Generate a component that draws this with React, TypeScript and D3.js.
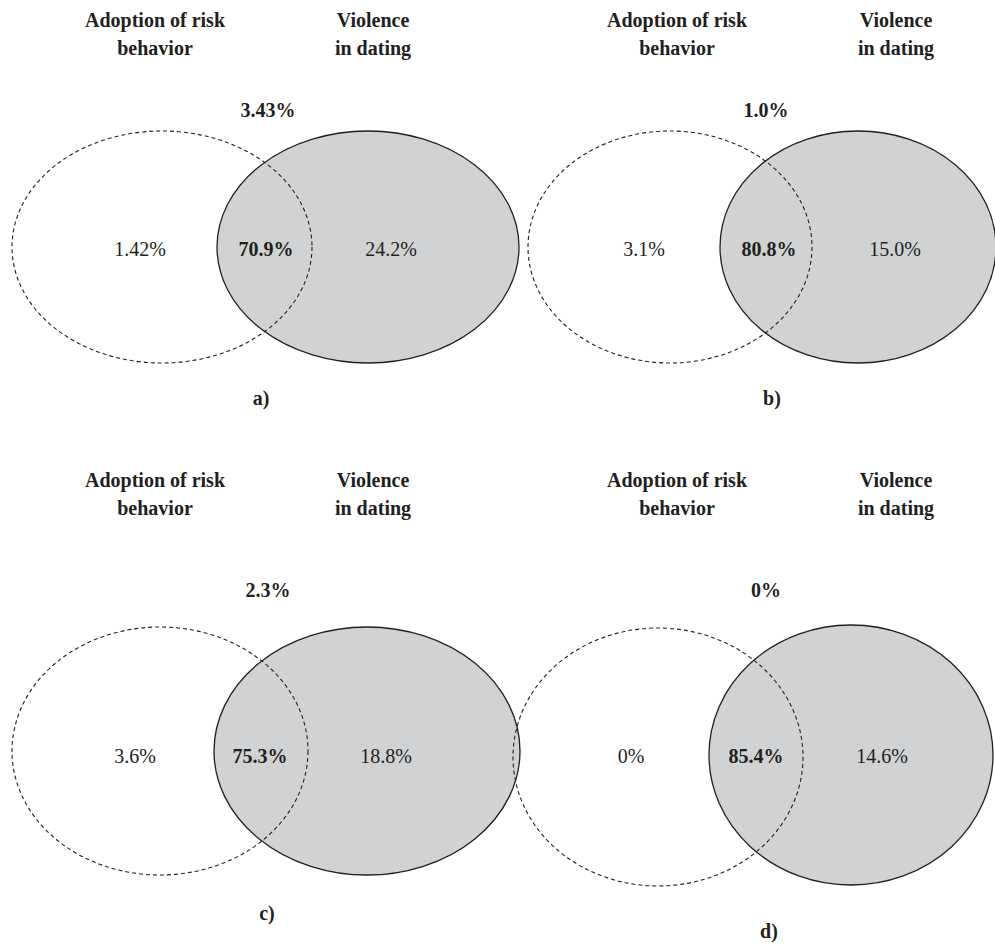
import React from "react";
import * as d3 from "d3";

// ---- Data ----
const panelLabels = ["a)", "b)", "c)", "d)"];
const setNames = ["Adoption of risk|behavior", "Violence|in dating"];
const onlyRisk = [1.42, 3.1, 3.6, 0];
const onlyRiskDigits = [2, 1, 1, 0];
const both = [70.9, 80.8, 75.3, 85.4];
const bothDigits = [1, 1, 1, 1];
const onlyViolence = [24.2, 15.0, 18.8, 14.6];
const onlyViolenceDigits = [1, 1, 1, 1];
const neither = [3.43, 1.0, 2.3, 0];
const neitherDigits = [2, 1, 1, 0];

// ---- Layout (per panel geometry) ----
const layout = [
  {
    dashed: { cx: 162, cy: 247, rx: 150, ry: 116 },
    solid: { cx: 368, cy: 247, rx: 151, ry: 116 },
    titleX: [155, 373], titleY: 27,
    topX: 268, topY: 117,
    valX: [140, 266, 391], valY: 256,
    panelX: 261, panelY: 405,
  },
  {
    dashed: { cx: 670, cy: 247, rx: 142, ry: 116 },
    solid: { cx: 858, cy: 247, rx: 138, ry: 116 },
    titleX: [677, 896], titleY: 27,
    topX: 766, topY: 117,
    valX: [644, 769, 895], valY: 256,
    panelX: 772, panelY: 405,
  },
  {
    dashed: { cx: 160, cy: 751, rx: 148, ry: 124 },
    solid: { cx: 367, cy: 751, rx: 153, ry: 124 },
    titleX: [155, 373], titleY: 487,
    topX: 268, topY: 597,
    valX: [135, 260, 386], valY: 763,
    panelX: 267, panelY: 920,
  },
  {
    dashed: { cx: 658, cy: 757, rx: 145, ry: 129 },
    solid: { cx: 851, cy: 755, rx: 142, ry: 130 },
    titleX: [677, 896], titleY: 487,
    topX: 766, topY: 597,
    valX: [631, 756, 882], valY: 763,
    panelX: 769, panelY: 938,
  },
];

const W = 995;
const H = 945;
const FONT = '"Liberation Serif", "Times New Roman", serif';
const fmt = (v: number, d: number) => d3.format(`.${d}f`)(v) + "%";

export default function App() {
  return (
    <div style={{ position: "absolute", left: 0, top: 0 }}>
      <svg width={W} height={H} viewBox={`0 0 ${W} ${H}`} style={{ display: "block", background: "#fff" }}>
        {layout.map((p, i) => {
          const vals = [
            fmt(onlyRisk[i], onlyRiskDigits[i]),
            fmt(both[i], bothDigits[i]),
            fmt(onlyViolence[i], onlyViolenceDigits[i]),
          ];
          return (
            <g key={i} style={{ fontFamily: FONT }} fontSize={20} fill="#231f20">
              <ellipse cx={p.solid.cx} cy={p.solid.cy} rx={p.solid.rx} ry={p.solid.ry}
                fill="#d1d2d4" stroke="#231f20" strokeWidth={1.3} />
              <ellipse cx={p.dashed.cx} cy={p.dashed.cy} rx={p.dashed.rx} ry={p.dashed.ry}
                fill="none" stroke="#231f20" strokeWidth={1.1} strokeDasharray="4,3" />
              {setNames.map((name, k) => (
                <text key={k} x={p.titleX[k]} y={p.titleY} textAnchor="middle" fontWeight="bold">
                  {name.split("|").map((line, j) => (
                    <tspan key={j} x={p.titleX[k]} dy={j === 0 ? 0 : 28}>{line}</tspan>
                  ))}
                </text>
              ))}
              <text x={p.topX} y={p.topY} textAnchor="middle" fontWeight="bold">
                {fmt(neither[i], neitherDigits[i])}
              </text>
              {vals.map((v, k) => (
                <text key={k} x={p.valX[k]} y={p.valY} textAnchor="middle" fontWeight={k === 1 ? "bold" : "normal"}>
                  {v}
                </text>
              ))}
              <text x={p.panelX} y={p.panelY} textAnchor="middle" fontWeight="bold">
                {panelLabels[i]}
              </text>
            </g>
          );
        })}
      </svg>
    </div>
  );
}
